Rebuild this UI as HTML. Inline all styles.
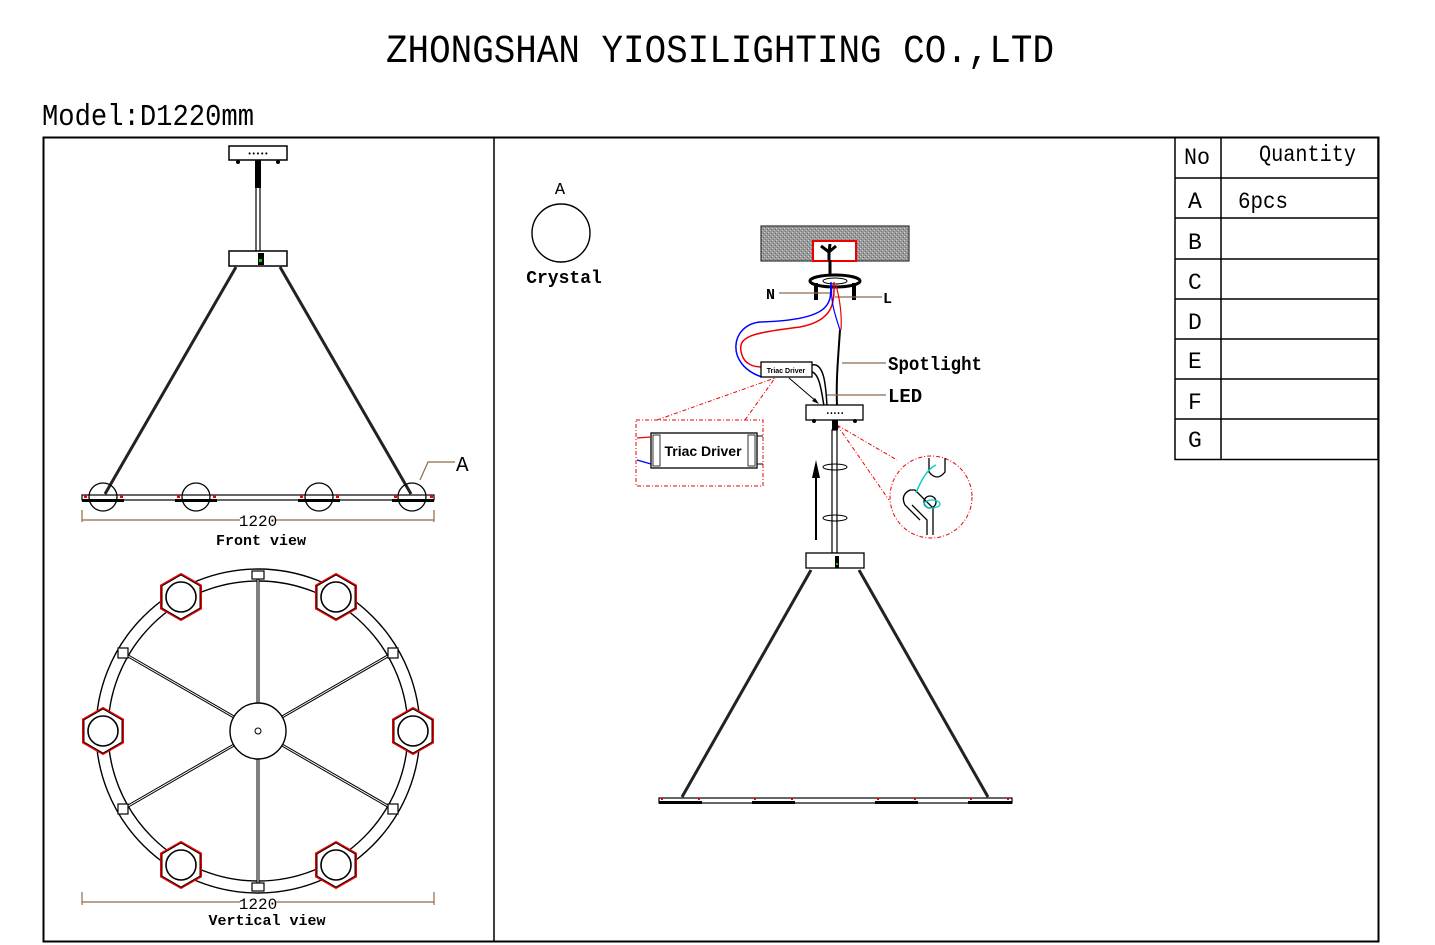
<!DOCTYPE html>
<html><head><meta charset="utf-8"><style>
html,body{margin:0;padding:0;background:#fff;}
svg{display:block;}
text{font-family:"Liberation Mono","DejaVu Sans Mono",monospace;fill:#000;}
text.sans{font-family:"Liberation Sans",sans-serif;}
</style></head><body>
<svg width="1435" height="945" viewBox="0 0 1435 945" xmlns="http://www.w3.org/2000/svg">
<defs>
<pattern id="grain" width="4" height="4" patternUnits="userSpaceOnUse">
<rect width="4" height="4" fill="#9a9a9a"/><rect x="0" y="0" width="1" height="1" fill="#d0d0d0"/><rect x="2" y="2" width="1" height="1" fill="#c8c8c8"/><rect x="3" y="1" width="1" height="1" fill="#666"/><rect x="1" y="3" width="1" height="1" fill="#777"/>
</pattern>
<g id="hex"><polygon points="0,-23 20,-11.5 20,11.5 0,23 -20,11.5 -20,-11.5" fill="#fff" stroke="#e00" stroke-width="2"/><polygon points="0,-22 19,-11 19,11 0,22 -19,11 -19,-11" fill="none" stroke="#000" stroke-width="1"/><circle r="15" fill="none" stroke="#000" stroke-width="1.6"/></g>
</defs>

<text x="720" y="62" text-anchor="middle" font-size="40" textLength="668" lengthAdjust="spacingAndGlyphs">ZHONGSHAN YIOSILIGHTING CO.,LTD</text>
<text x="42" y="125" font-size="31" textLength="212" lengthAdjust="spacingAndGlyphs">Model:D1220mm</text>

<rect x="43.5" y="137.5" width="1335" height="804" fill="none" stroke="#000" stroke-width="2"/>
<line x1="494" y1="137" x2="494" y2="942" stroke="#000" stroke-width="1.5"/>

<g stroke="#000" stroke-width="1.5" fill="none">
<rect x="1175" y="137.5" width="203" height="322"/>
<line x1="1221" y1="137" x2="1221" y2="460"/>
<line x1="1175" y1="178" x2="1378" y2="178"/>
<line x1="1175" y1="218" x2="1378" y2="218"/>
<line x1="1175" y1="259" x2="1378" y2="259"/>
<line x1="1175" y1="299" x2="1378" y2="299"/>
<line x1="1175" y1="339" x2="1378" y2="339"/>
<line x1="1175" y1="379" x2="1378" y2="379"/>
<line x1="1175" y1="419" x2="1378" y2="419"/>
</g>
<g font-size="23">
<text x="1184" y="164" textLength="26" lengthAdjust="spacingAndGlyphs">No</text>
<text x="1259" y="161" textLength="97" lengthAdjust="spacingAndGlyphs">Quantity</text>
<text x="1188" y="208">A</text><text x="1238" y="208" textLength="50" lengthAdjust="spacingAndGlyphs">6pcs</text>
<text x="1188" y="249">B</text><text x="1188" y="289">C</text><text x="1188" y="329">D</text>
<text x="1188" y="368">E</text><text x="1188" y="409">F</text><text x="1188" y="447">G</text>
</g>

<!-- FRONT VIEW -->
<rect x="229" y="146" width="58" height="14" fill="#fff" stroke="#000" stroke-width="1.5"/>
<text x="258" y="156" text-anchor="middle" font-size="7" font-weight="bold">•••••</text>
<circle cx="238" cy="162" r="2" fill="#000"/><circle cx="278" cy="162" r="2" fill="#000"/>
<rect x="255" y="160" width="6" height="28" fill="#000"/>
<line x1="256" y1="188" x2="256" y2="251" stroke="#000" stroke-width="1.2"/>
<line x1="260" y1="188" x2="260" y2="251" stroke="#000" stroke-width="1.2"/>
<rect x="229" y="251" width="58" height="15" fill="#fff" stroke="#000" stroke-width="1.5"/>
<rect x="258" y="253" width="6" height="12" fill="#000"/><rect x="259" y="259" width="3" height="3" fill="#0c0"/>
<line x1="236" y1="267" x2="105" y2="494" stroke="#222" stroke-width="3"/>
<line x1="280" y1="267" x2="411" y2="494" stroke="#222" stroke-width="3"/>
<rect x="82" y="495" width="352" height="5" fill="#fff" stroke="#000" stroke-width="1.2"/>
<g fill="#000"><rect x="82" y="499" width="42" height="3"/><rect x="175" y="499" width="42" height="3"/><rect x="298" y="499" width="42" height="3"/><rect x="392" y="499" width="42" height="3"/></g>
<g fill="none" stroke="#000" stroke-width="1.3"><circle cx="103" cy="497" r="14"/><circle cx="196" cy="497" r="14"/><circle cx="319" cy="497" r="14"/><circle cx="412" cy="497" r="14"/></g>
<g fill="#e00"><rect x="84" y="495" width="3" height="3"/><rect x="120" y="495" width="3" height="3"/><rect x="177" y="495" width="3" height="3"/><rect x="213" y="495" width="3" height="3"/><rect x="300" y="495" width="3" height="3"/><rect x="336" y="495" width="3" height="3"/><rect x="394" y="495" width="3" height="3"/><rect x="430" y="495" width="3" height="3"/></g>
<polyline points="420,480 428,462 455,462" fill="none" stroke="#8b6b4a" stroke-width="1.2"/>
<text x="456" y="471" font-size="21">A</text>
<g stroke="#8b6b4a" stroke-width="1.2" fill="none"><line x1="82" y1="520" x2="240" y2="520"/><line x1="276" y1="520" x2="434" y2="520"/><line x1="82" y1="510" x2="82" y2="522"/><line x1="434" y1="510" x2="434" y2="522"/></g>
<text x="258" y="526" text-anchor="middle" font-size="16">1220</text>
<text x="261" y="545" text-anchor="middle" font-size="15" font-weight="bold">Front view</text>

<!-- VERTICAL VIEW -->
<circle cx="258" cy="731" r="162" fill="none" stroke="#000" stroke-width="1.4"/>
<circle cx="258" cy="731" r="150" fill="none" stroke="#000" stroke-width="1.4"/>
<g stroke="#000" stroke-width="3"><line x1="258" y1="575" x2="258" y2="703"/><line x1="258" y1="759" x2="258" y2="887"/>
<line x1="123" y1="653" x2="234" y2="717"/><line x1="393" y1="653" x2="282" y2="717"/>
<line x1="123" y1="809" x2="234" y2="745"/><line x1="393" y1="809" x2="282" y2="745"/></g>
<g stroke="#fff" stroke-width="1"><line x1="258" y1="575" x2="258" y2="703"/><line x1="258" y1="759" x2="258" y2="887"/>
<line x1="123" y1="653" x2="234" y2="717"/><line x1="393" y1="653" x2="282" y2="717"/>
<line x1="123" y1="809" x2="234" y2="745"/><line x1="393" y1="809" x2="282" y2="745"/></g>
<circle cx="258" cy="731" r="28" fill="#fff" stroke="#000" stroke-width="1.4"/>
<circle cx="258" cy="731" r="3" fill="none" stroke="#000"/>
<g fill="#fff" stroke="#000" stroke-width="1.2">
<rect x="252" y="571" width="12" height="8"/><rect x="252" y="883" width="12" height="8"/>
<rect x="118" y="648" width="10" height="10"/><rect x="388" y="648" width="10" height="10"/>
<rect x="118" y="804" width="10" height="10"/><rect x="388" y="804" width="10" height="10"/></g>
<use href="#hex" x="181" y="597"/><use href="#hex" x="336" y="597"/>
<use href="#hex" x="103" y="731"/><use href="#hex" x="413" y="731"/>
<use href="#hex" x="181" y="865"/><use href="#hex" x="336" y="865"/>
<g stroke="#8b6b4a" stroke-width="1.2" fill="none"><line x1="82" y1="902" x2="240" y2="902"/><line x1="276" y1="902" x2="434" y2="902"/><line x1="82" y1="892" x2="82" y2="905"/><line x1="434" y1="892" x2="434" y2="905"/></g>
<text x="258" y="909" text-anchor="middle" font-size="16">1220</text>
<text x="267" y="925" text-anchor="middle" font-size="15" font-weight="bold">Vertical view</text>

<!-- RIGHT -->
<text x="560" y="194" text-anchor="middle" font-size="17">A</text>
<circle cx="561" cy="233" r="29" fill="none" stroke="#000" stroke-width="1.4"/>
<text x="564" y="283" text-anchor="middle" font-size="18" font-weight="bold">Crystal</text>

<rect x="761" y="226" width="148" height="35" fill="url(#grain)" stroke="#333" stroke-width="1.2"/>
<rect x="813" y="241" width="43" height="20" fill="#fff" stroke="#e00" stroke-width="2"/>
<path d="M829,260 L829,250 M829,252 L821,246 M829,252 L836,246 M829,252 L830,244" stroke="#000" stroke-width="3"/>
<line x1="830" y1="260" x2="830" y2="274" stroke="#000" stroke-width="3"/>
<ellipse cx="835" cy="281" rx="25" ry="6" fill="#fff" stroke="#000" stroke-width="3"/>
<ellipse cx="835" cy="281" rx="12" ry="3" fill="none" stroke="#000" stroke-width="1"/>
<rect x="814" y="283" width="4" height="17" fill="#000"/><rect x="852" y="283" width="4" height="17" fill="#000"/>
<line x1="779" y1="293" x2="830" y2="293" stroke="#8b6b4a" stroke-width="1.2"/>
<line x1="835" y1="297" x2="882" y2="297" stroke="#8b6b4a" stroke-width="1.2"/>
<text x="766" y="299" font-size="15" font-weight="bold">N</text>
<text x="883" y="303" font-size="15" font-weight="bold">L</text>
<path d="M831,282 C830,300 838,320 760,322 C730,325 725,365 762,377" fill="none" stroke="#00f" stroke-width="1.5"/>
<path d="M834,282 C834,300 836,320 800,327 C755,333 735,335 742,355 C745,365 755,367 762,367" fill="none" stroke="#e00" stroke-width="1.5"/>
<path d="M832,285 C830,300 835,315 840,330" fill="none" stroke="#00f" stroke-width="1.2"/>
<path d="M836,285 C840,300 842,315 841,330" fill="none" stroke="#e00" stroke-width="1.2"/>
<path d="M840,330 C838,360 836,380 837,406" fill="none" stroke="#000" stroke-width="2"/>
<path d="M812,365 C825,362 826,390 827,406" fill="none" stroke="#000" stroke-width="1.5"/>
<path d="M812,372 C820,374 822,395 824,406" fill="none" stroke="#000" stroke-width="1.5"/>
<rect x="761" y="362" width="51" height="15" fill="#fff" stroke="#000" stroke-width="1.3"/>
<text class="sans" x="786" y="373" text-anchor="middle" font-size="7" font-weight="bold">Triac Driver</text>
<line x1="789" y1="378" x2="817" y2="402" stroke="#000" stroke-width="1"/>
<polygon points="819,404 812,401 815,398" fill="#000"/>
<line x1="842" y1="363" x2="886" y2="363" stroke="#8b6b4a" stroke-width="1.2"/>
<line x1="827" y1="395" x2="886" y2="395" stroke="#8b6b4a" stroke-width="1.2"/>
<text x="888" y="370" font-size="19" font-weight="bold" textLength="94" lengthAdjust="spacingAndGlyphs">Spotlight</text>
<text x="888" y="402" font-size="19" font-weight="bold">LED</text>
<rect x="806" y="405" width="57" height="15" fill="#fff" stroke="#000" stroke-width="1.3"/>
<text x="835" y="415" text-anchor="middle" font-size="6" font-weight="bold">•••••</text>
<circle cx="814" cy="421" r="2" fill="#000"/><circle cx="855" cy="421" r="2" fill="#000"/>
<g stroke="#e00" stroke-width="1" stroke-dasharray="4,2,1,2" fill="none">
<line x1="657" y1="420" x2="775" y2="378"/><line x1="745" y1="420" x2="775" y2="378"/>
<rect x="636" y="420" width="127" height="66"/>
<line x1="837" y1="425" x2="897" y2="460"/><line x1="837" y1="425" x2="889" y2="500"/>
<circle cx="931" cy="497" r="41"/></g>
<rect x="651" y="433" width="106" height="35" fill="#fff" stroke="#000" stroke-width="1.3"/>
<line x1="637" y1="438" x2="651" y2="437" stroke="#e00" stroke-width="1.2"/>
<line x1="637" y1="460" x2="651" y2="464" stroke="#00f" stroke-width="1.2"/>
<line x1="757" y1="436" x2="763" y2="436" stroke="#000"/><line x1="757" y1="464" x2="763" y2="464" stroke="#000"/>
<rect x="653" y="435" width="7" height="31" fill="none" stroke="#000" stroke-width="0.8"/>
<rect x="748" y="435" width="7" height="31" fill="none" stroke="#000" stroke-width="0.8"/>
<text class="sans" x="703" y="456" text-anchor="middle" font-size="14" font-weight="bold">Triac Driver</text>
<rect x="832" y="420" width="6" height="10" fill="#000"/>
<rect x="832" y="430" width="5" height="123" fill="#fff" stroke="#000" stroke-width="1.2"/>
<g fill="none" stroke="#000" stroke-width="1"><ellipse cx="835" cy="467" rx="12" ry="3"/><ellipse cx="835" cy="518" rx="12" ry="3"/></g>
<line x1="816" y1="540" x2="816" y2="470" stroke="#000" stroke-width="2"/>
<polygon points="816,460 812,478 820,478" fill="#000"/>
<g fill="none" stroke="#000" stroke-width="1.3">
<path d="M929,458 L929,472 Q937,482 945,472 L945,458"/>
<path d="M920,520 L905,505 Q900,495 910,490 L915,490 L933,508 L933,535 M912,505 L927,520 L927,535"/>
<circle cx="930" cy="502" r="6"/></g>
<path d="M916,493 Q925,470 936,465" fill="none" stroke="#0cc" stroke-width="1.5"/>
<ellipse cx="932" cy="504" rx="8" ry="4" fill="none" stroke="#0cc" stroke-width="1.3"/>
<rect x="806" y="553" width="58" height="15" fill="#fff" stroke="#000" stroke-width="1.3"/>
<rect x="835" y="556" width="4" height="12" fill="#000"/><rect x="836" y="563" width="2" height="2" fill="#0c0"/>
<line x1="811" y1="570" x2="682" y2="797" stroke="#222" stroke-width="3"/>
<line x1="859" y1="570" x2="988" y2="797" stroke="#222" stroke-width="3"/>
<rect x="659" y="798" width="353" height="5" fill="#fff" stroke="#000" stroke-width="1.2"/>
<g fill="#000"><rect x="659" y="801" width="43" height="3"/><rect x="752" y="801" width="43" height="3"/><rect x="875" y="801" width="43" height="3"/><rect x="968" y="801" width="44" height="3"/></g>
<g fill="#e00"><rect x="661" y="798" width="2" height="2"/><rect x="698" y="798" width="2" height="2"/><rect x="754" y="798" width="2" height="2"/><rect x="791" y="798" width="2" height="2"/><rect x="877" y="798" width="2" height="2"/><rect x="914" y="798" width="2" height="2"/><rect x="970" y="798" width="2" height="2"/><rect x="1007" y="798" width="2" height="2"/></g>
</svg>
</body></html>
